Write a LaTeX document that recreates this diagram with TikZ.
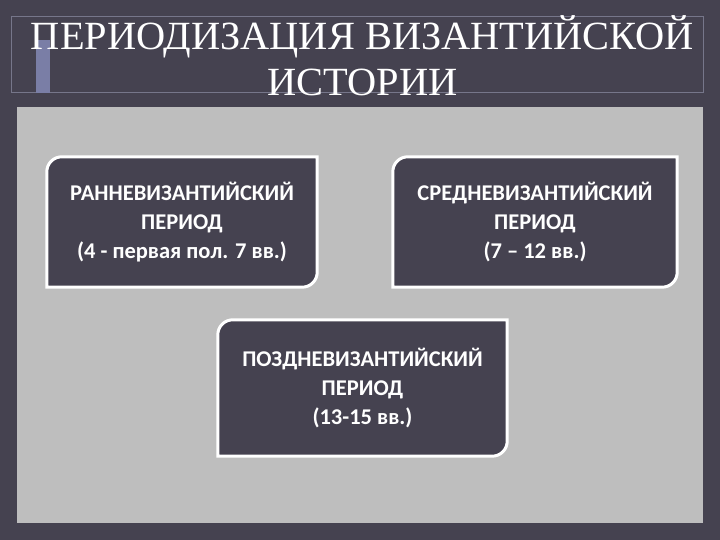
\documentclass[tikz,border=0pt]{standalone}
\usepackage{fontspec}
\setmainfont{Liberation Serif}
\newfontfamily\boxfont{Carlito}
\usepackage{tikz}
\usetikzlibrary{positioning}
\definecolor{slidebg}{RGB}{69,66,80}
\definecolor{panelgrey}{RGB}{190,190,190}
\definecolor{framegrey}{RGB}{118,118,138}
\definecolor{barblue}{RGB}{122,126,166}
\tikzset{
    titletext/.style={text=white, font=\fontsize{40}{46}\selectfont, align=center, inner sep=0pt},
    periodtext/.style={text=white, font=\boxfont\bfseries\fontsize{22.5}{29}\selectfont, align=center, inner sep=0pt},
    periodline/.style={draw=white, line width=3pt, fill=slidebg}
}
% box with round top-left and bottom-right corners
\newcommand{\periodshape}[3]{%
    \draw[periodline] (#1.south west) -- ([yshift=-#3]#1.north west)
        arc[start angle=180, end angle=90, radius=#3] -- (#1.north east)
        -- ([yshift=#3]#1.south east)
        arc[start angle=0, end angle=-90, radius=#3] -- cycle;
    \node[periodtext] at (#1.center) {#2};}

\begin{document}
\begin{tikzpicture}[x=1pt, y=1pt]
    \fill[slidebg] (0,0) rectangle (720,540);
    \useasboundingbox (0,0) rectangle (720,540);
    \fill[panelgrey] (17,17) rectangle (703,433);
    \draw[framegrey, line width=0.8pt] (11,448) rectangle (703,524);
    \fill[barblue] (36,447) rectangle (50,500);
    \node[titletext, xscale=1.01] (title) at (362.5,484.5) {ПЕРИОДИЗАЦИЯ ВИЗАНТИЙСКОЙ\\ИСТОРИИ};

    \node[minimum width=270pt, minimum height=130pt, inner sep=0pt] (early) at (182,318) {};
    \node[minimum width=284pt, minimum height=130pt, inner sep=0pt] (middle) at (535,318) {};
    \node[minimum width=289pt, minimum height=136pt, inner sep=0pt] (late) at (362.5,152) {};

    \periodshape{early}{РАННЕВИЗАНТИЙСКИЙ\\ПЕРИОД\\(4 - первая пол. 7 вв.)}{15pt}
    \periodshape{middle}{СРЕДНЕВИЗАНТИЙСКИЙ\\ПЕРИОД\\(7 – 12 вв.)}{15pt}
    \periodshape{late}{ПОЗДНЕВИЗАНТИЙСКИЙ\\ПЕРИОД\\(13-15 вв.)}{15pt}
\end{tikzpicture}
\end{document}
